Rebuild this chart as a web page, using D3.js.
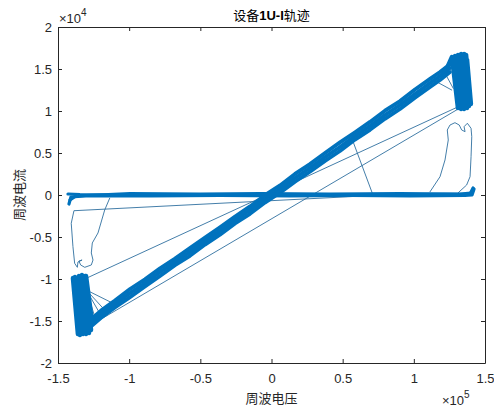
<!DOCTYPE html>
<html>
<head>
<meta charset="utf-8">
<script src="https://cdn.jsdelivr.net/npm/d3@7/dist/d3.min.js"></script>
<style>
  html, body { margin: 0; padding: 0; background: #fff; }
  svg { display: block; }
</style>
</head>
<body>
<svg id="chart" width="494" height="407"></svg>
<script>
// U-I trajectory of device 1: voltage (V) vs current (A), one cycle per pass.
const titleText = "设备1U-I轨迹";
const xLabel = "周波电压";
const yLabel = "周波电流";
const xTicks = [-150000, -100000, -50000, 0, 50000, 100000, 150000];
const yTicks = [-20000, -15000, -10000, -5000, 0, 5000, 10000, 15000, 20000];

// Dense passes along the resistive diagonal (voltage, current)
const diagPassA = [
  [-126100, -14700], [-119800, -13760], [-110000, -12560], [-99400, -11190], [-88900, -10040],
  [-78300, -8720], [-67800, -7580], [-57300, -6320], [-46700, -5070], [-36200, -3840],
  [-25600, -2560], [-15100, -1360], [-4600, -20], [6000, 1140], [16500, 2510],
  [27000, 3680], [37600, 4990], [48100, 6260], [58700, 7460], [69200, 8700],
  [79700, 10040], [90300, 11180], [100800, 12560], [111400, 13820], [118400, 14640], [125400, 15560]
];
const diagPassB = [
  [-126100, -15120], [-119800, -14170], [-110000, -12980], [-99400, -11670], [-88900, -10480],
  [-78300, -9170], [-67800, -7980], [-57300, -6790], [-46700, -5480], [-36200, -4290],
  [-25600, -2980], [-15100, -1790], [-4600, -480], [6000, 710], [16500, 2020],
  [27000, 3210], [37600, 4520], [48100, 5710], [58700, 7020], [69200, 8210],
  [79700, 9520], [90300, 10710], [100800, 12020], [111400, 13330], [118400, 14170], [125400, 15120]
];
const diagPassC = [
  [-126100, -15540], [-119800, -14620], [-110000, -13380], [-99400, -12150], [-88900, -10880],
  [-78300, -9640], [-67800, -8360], [-57300, -7240], [-46700, -5900], [-36200, -4720],
  [-25600, -3380], [-15100, -2240], [-4600, -900], [6000, 270], [16500, 1580],
  [27000, 2770], [37600, 4060], [48100, 5240], [58700, 6600], [69200, 7760],
  [79700, 9070], [90300, 10240], [100800, 11580], [111400, 12860], [118400, 13700], [125400, 14640]
];

// Positive-peak cluster
const peakPos = [
  [124000, 15360], [126800, 16430], [131000, 10360], [128900, 16550], [133200, 10240],
  [131000, 16670], [135300, 10240], [133200, 16790], [137400, 10360], [135300, 16790],
  [138800, 10600], [136700, 16670], [140100, 10830], [137400, 16070], [139400, 11900]
];
// Negative-peak cluster
const peakNeg = [
  [-126100, -15120], [-130300, -9640], [-136000, -16550], [-139500, -9880], [-134600, -16670],
  [-138100, -9760], [-132400, -16550], [-135300, -9640], [-130300, -16550], [-133200, -9520],
  [-128200, -16430], [-131000, -9640], [-126800, -16070]
];

// Near-zero current passes along the voltage axis
const flatPassA = [
  [-143000, 119], [-134600, 60], [-106400, 0], [-64300, 60], [-22100, 0],
  [20000, 60], [62200, 0], [104300, 60], [139500, 119], [141600, 833]
];
const flatPassB = [
  [-142300, -1071], [-140900, -238], [-131000, -119], [-85400, -119], [-36200, -60],
  [13000, -119], [55200, -60], [97400, -119], [135900, -60], [140900, 0], [142300, 714]
];
const flatPassC = [
  [-141600, -595], [-137400, -119], [-99400, 179], [-50200, 119], [-8100, 179],
  [41100, 119], [90300, 179], [132400, 119], [140100, 238]
];

// Single transitions
const swingRight = [
  [111400, 390], [118400, 2180], [121900, 4170], [124200, 6550], [123500, 7740],
  [125400, 8330], [128900, 8610], [131900, 8330], [133600, 7740], [136000, 7540],
  [135300, 8130], [137600, 8540], [140200, 7940], [140700, 6940], [140200, 4560],
  [139500, 2180], [137100, 1190], [131200, 270]
];
const swingLeft = [
  [-113700, -390], [-117200, -1790], [-121900, -4520], [-125900, -5710], [-126600, -6900],
  [-125400, -7740], [-126600, -8330], [-131200, -8610], [-134100, -8330], [-135300, -7860],
  [-133100, -7740], [-136000, -7980], [-136400, -8610], [-138300, -8130], [-139500, -6150],
  [-140700, -3370], [-138800, -1870], [71300, -60]
];
const dropMid = [[56600, 6670], [71300, 0]];
const jumpA = [[-131200, -10000], [132400, 10600]];
const jumpB = [[-126800, -15480], [132400, 10360]];
const fanNeg = [
  [[-130100, -11310], [-111400, -12890]],
  [[-130100, -11310], [-117200, -13690]],
  [[-130100, -11310], [-120700, -14080]],
  [[-129400, -11600], [-124200, -14490]]
];
const fanPos = [
  [[113700, 13690], [126600, 12500]],
  [[121900, 14490], [127700, 12700]]
];

const diagTraces = [diagPassA, diagPassB, diagPassC];
const flatTraces = [flatPassA, flatPassB, flatPassC];
const clusterTraces = [peakPos, peakNeg];
const thinTraces = [swingRight, swingLeft, dropMid, jumpA, jumpB, ...fanNeg, ...fanPos];

const svg = d3.select("#chart");
const W = 494, H = 407;
const m = { left: 58, right: 9, top: 27, bottom: 44 };
const x = d3.scaleLinear().domain([-150000, 150000]).range([m.left, W - m.right]);
const y = d3.scaleLinear().domain([-20000, 20000]).range([H - m.bottom, m.top]);

const axisColor = "#262626";
const numFont = "'Liberation Sans', Arial, sans-serif";
const cjkFont = "'Noto Sans CJK SC', sans-serif";

svg.append("rect").attr("width", W).attr("height", H).attr("fill", "#fff");

svg.append("defs").append("clipPath").attr("id", "plotClip")
  .append("rect").attr("x", m.left).attr("y", m.top)
  .attr("width", W - m.right - m.left).attr("height", H - m.bottom - m.top);

const line = d3.line().x(d => x(d[0])).y(d => y(d[1]));
const plot = svg.append("g").attr("clip-path", "url(#plotClip)");
const blue = "#0072BD";

function drawTraces(cls, data, color, width) {
  plot.selectAll("path." + cls).data(data).join("path")
    .attr("class", cls).attr("d", line)
    .attr("fill", "none").attr("stroke", color).attr("stroke-width", width)
    .attr("stroke-linejoin", "round").attr("stroke-linecap", "round");
}
drawTraces("thin", thinTraces, "#2f6f9f", 0.9);
drawTraces("diag", diagTraces, blue, 3.8);
drawTraces("flat", flatTraces, blue, 3.2);
drawTraces("cluster", clusterTraces, blue, 4.5);

const fmt = s => v => String(+(v / s).toFixed(2));

function styleAxis(g) {
  g.select(".domain").attr("stroke", axisColor).attr("stroke-width", 1);
  g.selectAll(".tick line").attr("stroke", axisColor).attr("stroke-width", 1);
  g.selectAll(".tick text").attr("fill", axisColor)
    .style("font-family", numFont).style("font-size", "13px");
}

svg.append("g").attr("transform", `translate(0,${H - m.bottom})`)
  .call(d3.axisBottom(x).tickValues(xTicks).tickFormat(fmt(1e5)).tickSizeInner(-4).tickSizeOuter(0).tickPadding(11))
  .call(styleAxis);
svg.append("g").attr("transform", `translate(0,${m.top})`)
  .call(d3.axisTop(x).tickValues(xTicks).tickFormat("").tickSizeInner(-4).tickSizeOuter(0))
  .call(styleAxis);
svg.append("g").attr("transform", `translate(${m.left},0)`)
  .call(d3.axisLeft(y).tickValues(yTicks).tickFormat(fmt(1e4)).tickSizeInner(-4).tickSizeOuter(0).tickPadding(6))
  .call(styleAxis);
svg.append("g").attr("transform", `translate(${W - m.right},0)`)
  .call(d3.axisRight(y).tickValues(yTicks).tickFormat("").tickSizeInner(-4).tickSizeOuter(0))
  .call(styleAxis);

// Title
const t = svg.append("text").attr("x", (x.range()[0] + x.range()[1]) / 2).attr("y", 20)
  .attr("text-anchor", "middle").attr("fill", "#000").style("font-size", "13px");
t.append("tspan").style("font-family", cjkFont).text(titleText.slice(0, 2));
t.append("tspan").style("font-family", numFont).style("font-weight", "bold").text(titleText.slice(2, 6));
t.append("tspan").style("font-family", cjkFont).text(titleText.slice(6));

// Axis labels
svg.append("text").attr("x", (x.range()[0] + x.range()[1]) / 2).attr("y", 403)
  .attr("text-anchor", "middle").attr("fill", axisColor)
  .style("font-family", cjkFont).style("font-size", "13px").text(xLabel);
svg.append("text").attr("transform", `translate(24,${y(0)}) rotate(-90)`)
  .attr("text-anchor", "middle").attr("fill", axisColor)
  .style("font-family", cjkFont).style("font-size", "13px").text(yLabel);

// Exponent multipliers
function multiplier(px, py, exp) {
  const g = svg.append("text").attr("x", px).attr("y", py).attr("fill", axisColor)
    .style("font-family", numFont).style("font-size", "13px");
  g.append("tspan").text("×10");
  g.append("tspan").attr("dy", -7).style("font-size", "10px").text(exp);
}
multiplier(59, 23, "4");
multiplier(442, 405, "5");
</script>
</body>
</html>
